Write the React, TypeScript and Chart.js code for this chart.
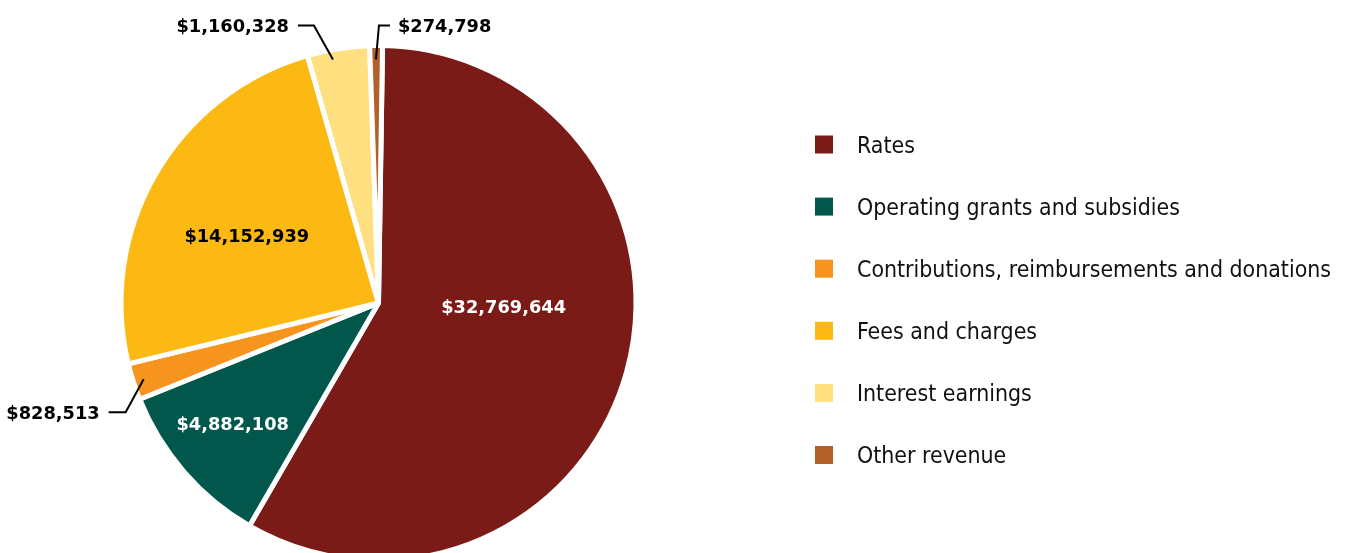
import { useEffect, useRef } from "react";
import { Chart, registerables } from "chart.js";

Chart.register(...registerables);

// ---- data ----
const categories = [
  "Rates",
  "Operating grants and subsidies",
  "Contributions, reimbursements and donations",
  "Fees and charges",
  "Interest earnings",
  "Other revenue",
];
// slice sizes (percent of the circle) as drawn in the picture
const sliceShares = [58.1, 10.55, 2.3, 24.35, 3.9, 0.8];
// amounts printed on the slices
const labelAmounts = [32769644, 4882108, 828513, 14152939, 1160328, 274798];

// ---- styles / layout ----
const colors = ["#7A1B17", "#02574D", "#F7941E", "#FDB913", "#FFE080", "#B2612A"];
const labelFont = "bold 17.8px 'DejaVu Sans', Verdana, sans-serif";
const legendFont = "22.9px 'DejaVu Sans Condensed', 'DejaVu Sans', sans-serif";
// label placement: angle clockwise from 12 o'clock (deg), distance as fraction of radius
const labelLayout = [
  { kind: "in", angle: 91.8, r: 0.486, color: "#ffffff" },
  { kind: "in", angle: 230.5, r: 0.734, color: "#ffffff" },
  { kind: "out", angle: 252, r: 0.959, ex: -18, ey: 33, tail: -17, color: "#000000" },
  { kind: "in", angle: 297, r: 0.574, color: "#000000" },
  { kind: "out", angle: 349.4, r: 0.962, ex: -19, ey: -34, tail: -16, color: "#000000" },
  { kind: "out", angle: 359.4, r: 0.946, ex: 3, ey: -34, tail: 11, color: "#000000" },
];
const legendBox = { x: 815, size: 18, textX: 857, firstY: 144.5, step: 62.1 };

const fmt = (v: number) => "$" + v.toLocaleString("en-US");

const overlayPlugin = {
  id: "overlay",
  afterDraw(chart: any) {
    const ctx = chart.ctx as CanvasRenderingContext2D;
    const meta = chart.getDatasetMeta(0);
    const arc0: any = meta.data[0];
    if (!arc0) return;
    const cx = arc0.x;
    const cy = arc0.y;
    const R = arc0.outerRadius;
    ctx.save();
    ctx.font = labelFont;
    const digitH = 13;
    labelLayout.forEach((L: any, i) => {
      const a = ((L.angle - 90) * Math.PI) / 180;
      const px = cx + Math.cos(a) * R * L.r;
      const py = cy + Math.sin(a) * R * L.r;
      const text = fmt(labelAmounts[i]);
      ctx.fillStyle = L.color;
      if (L.kind === "in") {
        ctx.textAlign = "center";
        ctx.textBaseline = "alphabetic";
        ctx.fillText(text, px, py + digitH / 2);
      } else {
        const exx = px + L.ex;
        const eyy = py + L.ey;
        const endX = exx + L.tail;
        ctx.strokeStyle = "#000000";
        ctx.lineWidth = 2;
        ctx.beginPath();
        ctx.moveTo(px, py);
        ctx.lineTo(exx, eyy);
        ctx.lineTo(endX, eyy);
        ctx.stroke();
        ctx.textBaseline = "alphabetic";
        if (L.tail < 0) {
          ctx.textAlign = "right";
          ctx.fillText(text, endX - 9, eyy + digitH / 2);
        } else {
          ctx.textAlign = "left";
          ctx.fillText(text, endX + 8, eyy + digitH / 2);
        }
      }
    });
    // legend
    ctx.font = legendFont;
    ctx.textAlign = "left";
    ctx.textBaseline = "alphabetic";
    categories.forEach((c, i) => {
      const yc = legendBox.firstY + i * legendBox.step;
      ctx.fillStyle = colors[i];
      ctx.fillRect(legendBox.x, yc - legendBox.size / 2, legendBox.size, legendBox.size);
      ctx.fillStyle = "#111111";
      ctx.fillText(c, legendBox.textX, yc + 8.3);
    });
    ctx.restore();
  },
};

export default function App() {
  const ref = useRef<HTMLCanvasElement | null>(null);
  useEffect(() => {
    if (!ref.current) return;
    const chart = new Chart(ref.current, {
      type: "pie",
      data: {
        labels: categories,
        datasets: [
          {
            data: sliceShares,
            backgroundColor: colors,
            borderColor: "#ffffff",
            borderWidth: 5,
          },
        ],
      },
      options: {
        responsive: false,
        maintainAspectRatio: false,
        animation: false,
        rotation: 0.9,
        radius: 257.5,
        layout: { padding: { left: 100, right: 691, top: 40, bottom: 34 } },
        plugins: {
          legend: { display: false },
          tooltip: { enabled: false },
        },
      } as any,
      plugins: [overlayPlugin],
    });
    return () => chart.destroy();
  }, []);
  return (
    <div style={{ position: "fixed", left: 0, top: 0, width: 1348, height: 600, overflow: "hidden", background: "#ffffff" }}>
      <canvas ref={ref} width={1348} height={600} style={{ display: "block", width: 1348, height: 600 }} />
    </div>
  );
}
